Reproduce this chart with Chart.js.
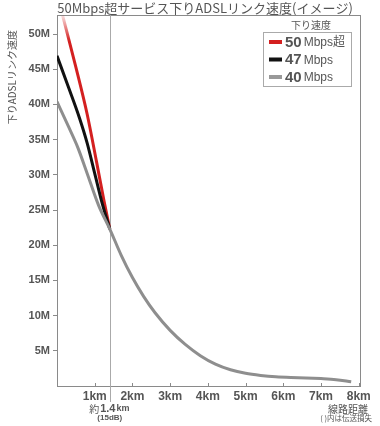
<!DOCTYPE html>
<html><head><meta charset="utf-8">
<script src="https://cdn.jsdelivr.net/npm/chart.js@4/dist/chart.umd.min.js"></script>
<style>html,body{margin:0;padding:0;background:#fff}canvas{display:block}</style>
</head><body>
<canvas id="c" width="380" height="426"></canvas>
<script>
// ---- data (km, Mbps) ----
const title = '50Mbps超サービス下りADSLリンク速度(イメージ)';
const yAxisTitle = '下りADSLリンク速度';
const legendTitle = '下り速度';
const seriesNumbers = ['50', '47', '40'];
const seriesUnits = ['Mbps超', 'Mbps', 'Mbps'];

const dist50 = [0.15, 0.5, 0.8, 1.05, 1.25, 1.4];
const speed50 = [52.6, 45.3, 38.6, 31.8, 26.2, 22.3];

const dist47 = [0, 0.3, 0.6, 0.8, 1.0, 1.2, 1.4];
const speed47 = [46.9, 42.5, 38.0, 34.5, 30.2, 25.9, 22.3];

const dist40 = [0, 0.3, 0.55, 0.8, 1.1, 1.4, 1.7, 2.0, 2.3, 2.6, 3.0, 3.4, 3.8, 4.2, 4.6, 5.0, 5.4, 5.8, 6.2, 6.6, 7.0, 7.4, 7.8];
const speed40 = [40.4, 36.9, 33.9, 30.2, 25.7, 22.3, 18.6, 15.4, 12.7, 10.4, 7.9, 5.9, 4.3, 3.1, 2.3, 1.8, 1.5, 1.3, 1.2, 1.15, 1.05, 0.9, 0.6];

const xTickValues = [1, 2, 3, 4, 5, 6, 7, 8];
const yTickValues = [5, 10, 15, 20, 25, 30, 35, 40, 45, 50];
const markerKm = 1.4;
const markerLabel = ['約', '1.4', 'km'];
const markerSub = '(15dB)';
const xAxisTitle = '線路距離';
const xAxisNote = '( )内は伝送損失';

const RED = '#d42020', BLACK = '#111111', GRAY = '#8e8e8e', TEXT = '#555555';
const FONT = "'Liberation Sans', Arial, 'Noto Sans CJK JP', sans-serif";
const JFONT = "'Noto Sans CJK JP', 'Liberation Sans', sans-serif";

const pts = (xs, ys) => xs.map((x, i) => ({x, y: ys[i]}));

const redGradient = (ctx) => {
  const chart = ctx.chart;
  if (!chart.chartArea) return RED;
  const y = chart.scales.y;
  const g = chart.ctx.createLinearGradient(0, y.getPixelForValue(53), 0, y.getPixelForValue(49));
  g.addColorStop(0, 'rgba(212,32,32,0.05)');
  g.addColorStop(1, 'rgba(212,32,32,1)');
  return g;
};

const decor = {
  id: 'decor',
  beforeDatasetsDraw(chart) {
    const {ctx, chartArea: a, scales: {x}} = chart;
    ctx.save();
    ctx.strokeStyle = '#8a8a8a';
    ctx.lineWidth = 1;
    ctx.strokeRect(Math.round(a.left) + 0.5, Math.round(a.top) + 0.5, Math.round(a.right - a.left) - 1, Math.round(a.bottom - a.top));
    xTickValues.forEach(v => {
      const px = Math.round(x.getPixelForValue(v)) + 0.5;
      ctx.beginPath(); ctx.moveTo(px, a.bottom - 3); ctx.lineTo(px, a.bottom); ctx.stroke();
    });
    const mx = Math.round(x.getPixelForValue(markerKm)) + 0.5;
    ctx.strokeStyle = '#aaaaaa';
    ctx.beginPath(); ctx.moveTo(mx, a.top); ctx.lineTo(mx, a.bottom + 16); ctx.stroke();
    ctx.restore();
  },
  afterDraw(chart) {
    const {ctx, scales: {x}} = chart;
    ctx.save();
    ctx.fillStyle = TEXT;
    ctx.textBaseline = 'middle';
    ctx.font = '13px ' + JFONT;
    ctx.textAlign = 'center';
    ctx.fillText(title, 205, 8);
    ctx.save();
    ctx.translate(12, 30);
    ctx.rotate(-Math.PI / 2);
    ctx.textAlign = 'right';
    ctx.font = '10px ' + JFONT;
    ctx.fillText(yAxisTitle, 0, 0);
    ctx.restore();
    const mx = x.getPixelForValue(markerKm);
    const runs = [['10px ' + JFONT, markerLabel[0]], ['bold 11px ' + FONT, markerLabel[1]], ['bold 9px ' + FONT, markerLabel[2]]];
    let w = 0;
    runs.forEach(r => { ctx.font = r[0]; w += ctx.measureText(r[1]).width + 1; });
    let cx = mx - w / 2;
    ctx.textAlign = 'left';
    runs.forEach(r => { ctx.font = r[0]; ctx.fillText(r[1], cx, 409); cx += ctx.measureText(r[1]).width + 1; });
    ctx.textAlign = 'center';
    ctx.font = 'bold 8px ' + FONT;
    ctx.fillText(markerSub, mx, 418);
    ctx.textAlign = 'right';
    ctx.font = '10px ' + JFONT;
    ctx.fillText(xAxisTitle, 368, 409);
    ctx.font = '7.5px ' + JFONT;
    ctx.fillText(xAxisNote, 372, 418);
    ctx.textAlign = 'center';
    ctx.font = '10px ' + JFONT;
    ctx.fillText(legendTitle, 311, 25);
    ctx.fillStyle = '#ffffff';
    ctx.fillRect(263.5, 32.5, 88, 54);
    ctx.strokeStyle = '#aaaaaa';
    ctx.lineWidth = 1;
    ctx.strokeRect(263.5, 32.5, 88, 54);
    const colors = [RED, BLACK, '#999999'];
    const rowsY = [42, 59.5, 77];
    ctx.textAlign = 'left';
    rowsY.forEach((ry, i) => {
      ctx.fillStyle = colors[i];
      ctx.fillRect(269, ry - 2, 13, 4);
      ctx.fillStyle = TEXT;
      ctx.font = 'bold 15px ' + FONT;
      ctx.fillText(seriesNumbers[i], 285, ry + 0.5);
      const nw = ctx.measureText(seriesNumbers[i]).width;
      ctx.font = '12px ' + FONT;
      ctx.fillText(seriesUnits[i], 287 + nw, ry + 1);
    });
    ctx.restore();
  }
};

new Chart(document.getElementById('c'), {
  type: 'line',
  data: {
    datasets: [
      {label: '40Mbps', data: pts(dist40, speed40), borderColor: GRAY, borderWidth: 3},
      {label: '47Mbps', data: pts(dist47, speed47), borderColor: BLACK, borderWidth: 3},
      {label: '50Mbps超', data: pts(dist50, speed50), borderColor: redGradient, borderWidth: 3}
    ]
  },
  options: {
    responsive: false,
    animation: false,
    elements: {point: {radius: 0}, line: {cubicInterpolationMode: 'monotone', fill: false}},
    layout: {padding: {top: 15, right: 19, left: 0, bottom: 0}},
    plugins: {legend: {display: false}, title: {display: false}, tooltip: {enabled: false}},
    scales: {
      x: {
        type: 'linear', min: 0, max: 8.06,
        afterBuildTicks: s => { s.ticks = xTickValues.map(v => ({value: v})); },
        afterFit: s => { s.height = 40; },
        grid: {display: false, drawTicks: false},
        border: {display: false},
        ticks: {autoSkip: false, maxRotation: 0, padding: 3, color: TEXT,
          font: {family: FONT, size: 12, weight: 'bold'}, callback: v => v + 'km'}
      },
      y: {
        type: 'linear', min: 0, max: 52.7,
        afterBuildTicks: s => { s.ticks = yTickValues.map(v => ({value: v})); },
        afterFit: s => { s.width = 57; },
        grid: {drawOnChartArea: false, drawTicks: true, tickLength: 4, color: '#8a8a8a'},
        border: {display: false},
        ticks: {padding: 3, color: TEXT, font: {family: FONT, size: 11, weight: 'bold'}, callback: v => v + 'M'}
      }
    }
  },
  plugins: [decor]
});
</script>
</body></html>
